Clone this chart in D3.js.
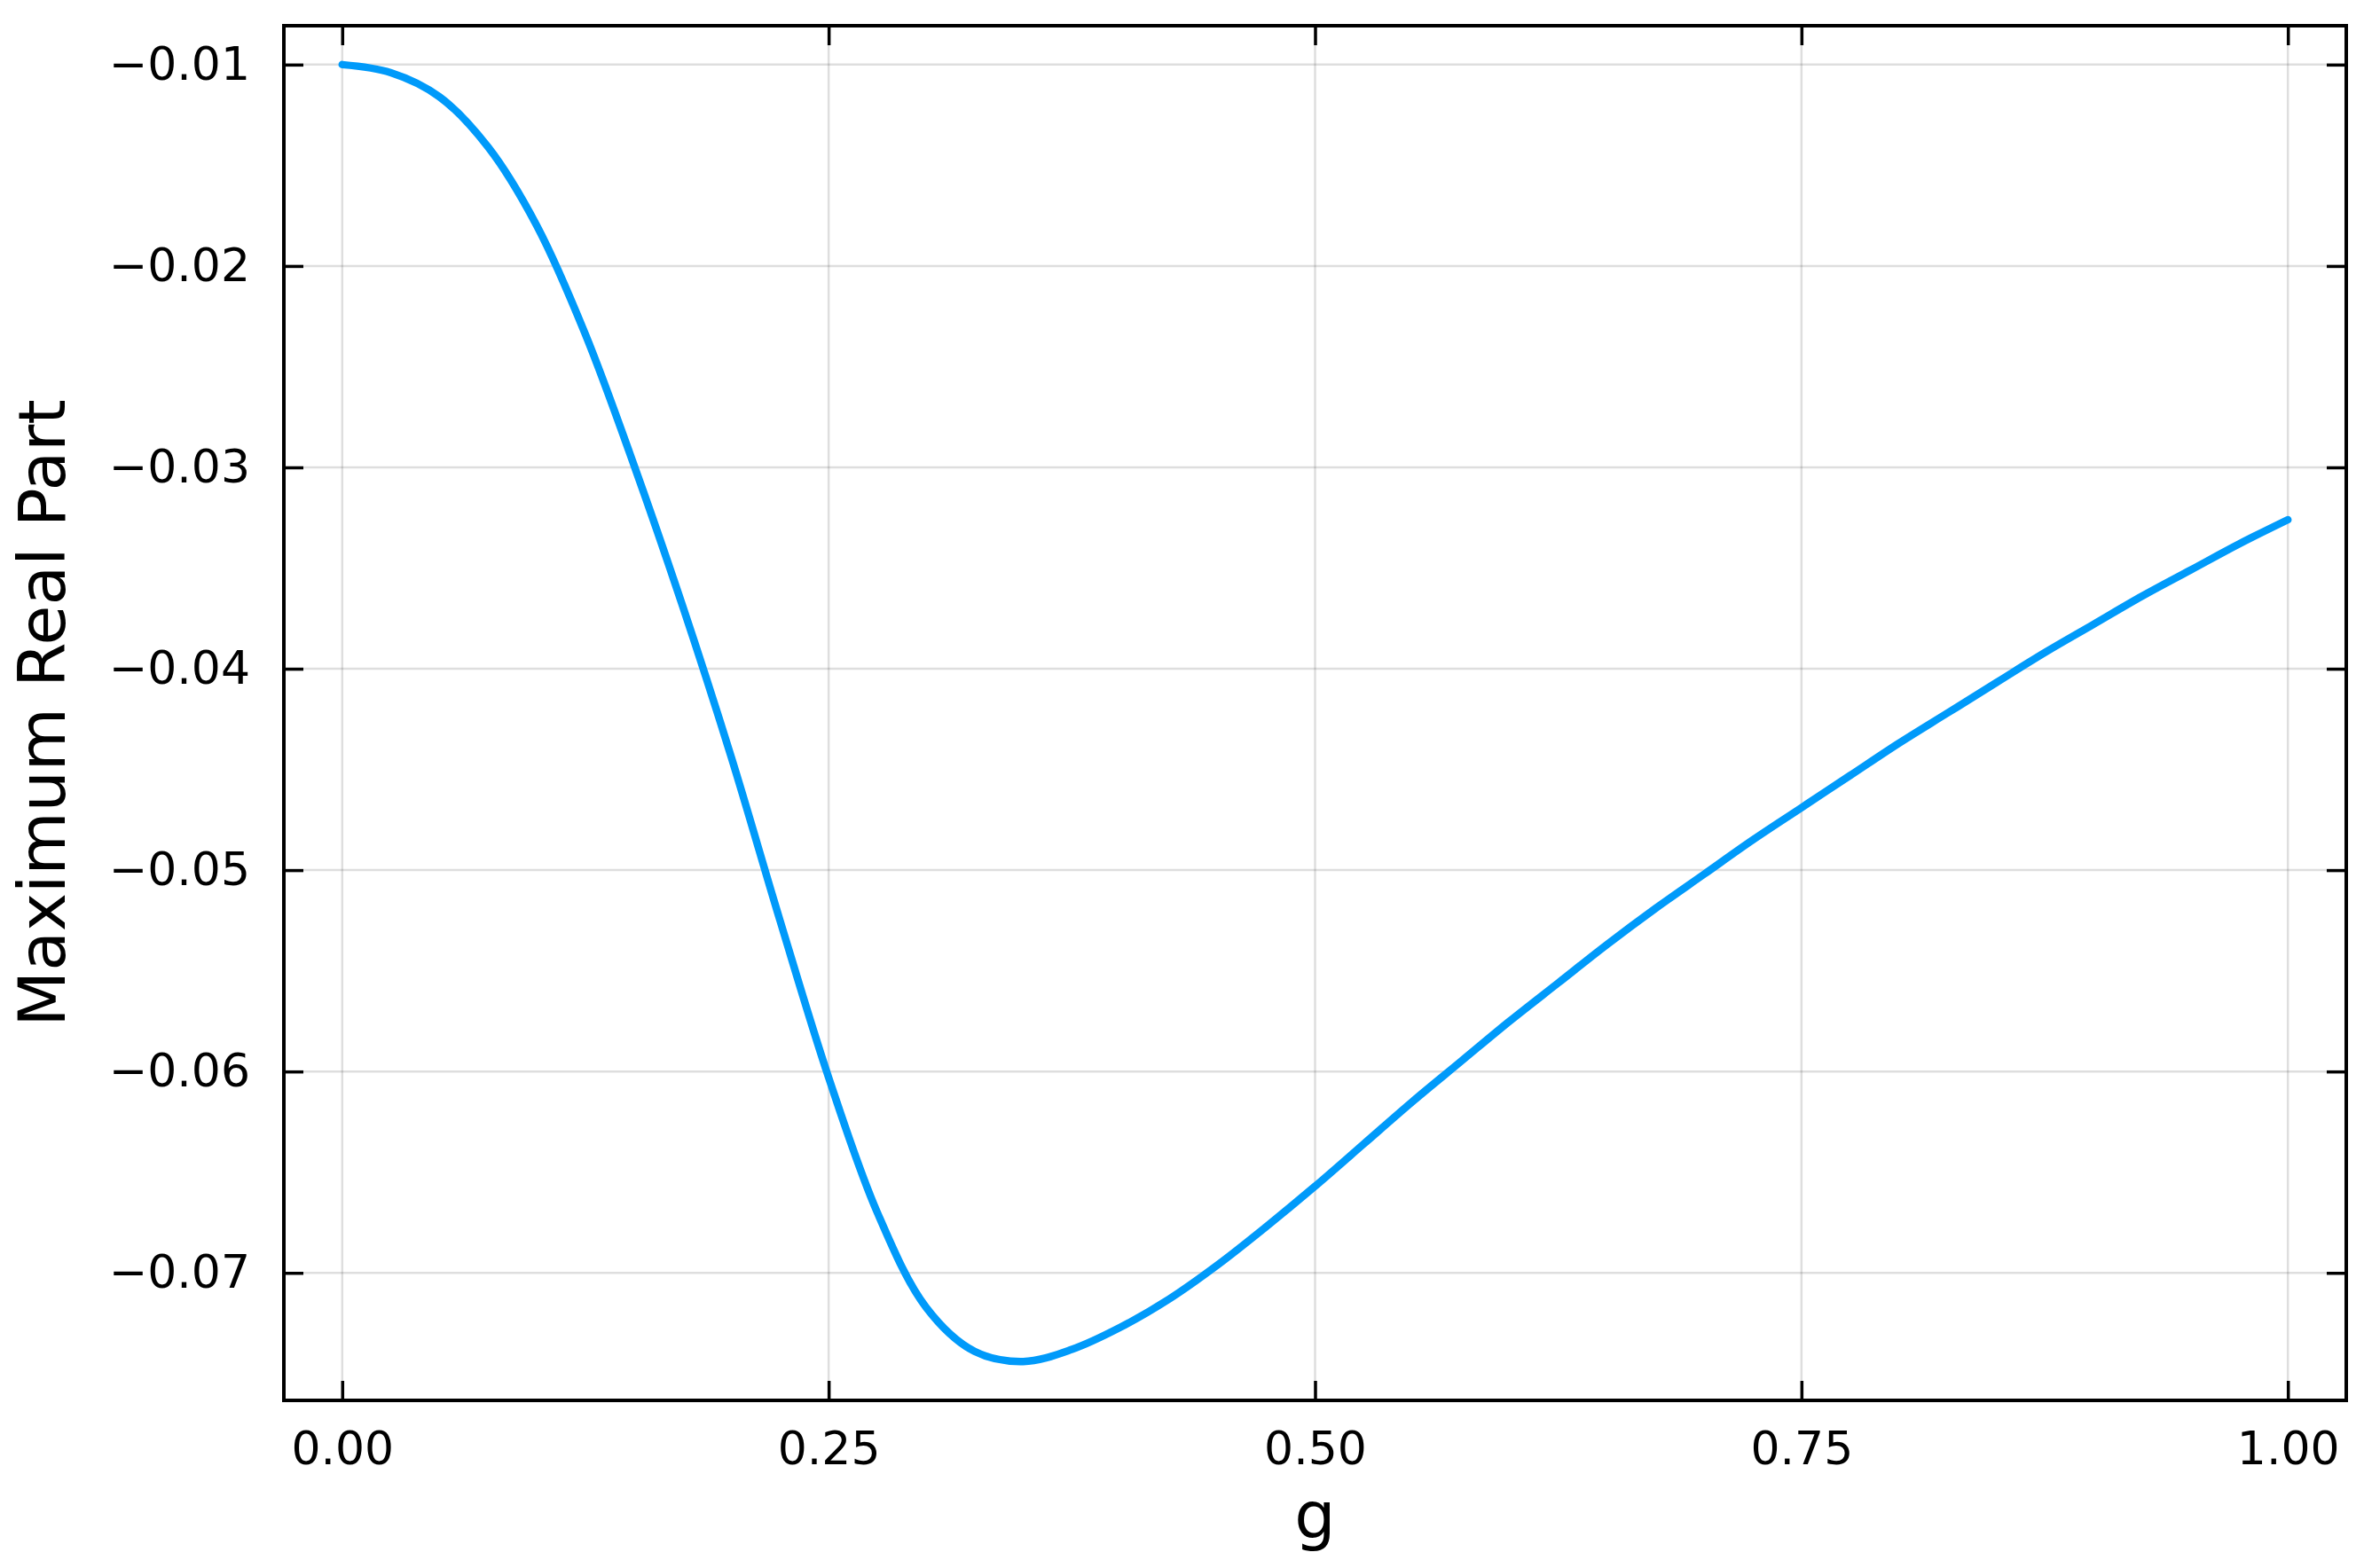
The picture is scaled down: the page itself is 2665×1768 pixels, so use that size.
<!DOCTYPE html>
<html>
<head>
<meta charset="utf-8">
<script src="https://cdn.jsdelivr.net/npm/d3@7"></script>
<style>
  html, body { margin: 0; padding: 0; background: #ffffff; }
  svg { display: block; }
</style>
</head>
<body>
<svg id="chart" width="2665" height="1768"></svg>
<script>
// ---- data ----
const gValues = [0.000, 0.025, 0.050, 0.075, 0.100, 0.125, 0.150, 0.175, 0.200, 0.225,
                 0.250, 0.275, 0.300, 0.325, 0.350, 0.375, 0.400, 0.425, 0.450, 0.475,
                 0.500, 0.525, 0.550, 0.575, 0.600, 0.625, 0.650, 0.675, 0.700, 0.725,
                 0.750, 0.775, 0.800, 0.825, 0.850, 0.875, 0.900, 0.925, 0.950, 0.975, 1.000];
const maxRealPart = [-0.0100, -0.0104, -0.0116, -0.0141, -0.0180, -0.0234, -0.0299, -0.0369, -0.0444, -0.0525,
                     -0.0603, -0.0670, -0.0717, -0.0739, -0.0744, -0.0738, -0.0727, -0.0713, -0.0696, -0.0677,
                     -0.0657, -0.0636, -0.0615, -0.0595, -0.0575, -0.0556, -0.0537, -0.0519, -0.0502, -0.0485,
                     -0.0469, -0.0453, -0.0437, -0.0422, -0.0407, -0.0392, -0.0378, -0.0364, -0.0351, -0.0338, -0.0326];
const xTickValues = [0, 0.25, 0.5, 0.75, 1.0];
const xTickLabels = ["0.00", "0.25", "0.50", "0.75", "1.00"];
const yTickValues = [-0.07, -0.06, -0.05, -0.04, -0.03, -0.02, -0.01];
const yTickLabels = ["\u22120.07", "\u22120.06", "\u22120.05", "\u22120.04", "\u22120.03", "\u22120.02", "\u22120.01"];
const xAxisTitle = "g";
const yAxisTitle = "Maximum Real Part";

// ---- layout ----
const frame = { left: 320, right: 2645, top: 29, bottom: 1579 };
const font = "'DejaVu Sans', sans-serif";
const tickFont = 52, titleFont = 73, tickLen = 22;

const svg = d3.select("#chart");
svg.append("rect").attr("width", 2665).attr("height", 1768).attr("fill", "#ffffff");

const data = gValues.map((g, i) => ({ g, v: maxRealPart[i] }));

const xExt = d3.extent(gValues), yExt = d3.extent(maxRealPart);
const xPad = (xExt[1] - xExt[0]) * 0.03, yPad = (yExt[1] - yExt[0]) * 0.03;
const x = d3.scaleLinear().domain([xExt[0] - xPad, xExt[1] + xPad]).range([frame.left, frame.right]);
const y = d3.scaleLinear().domain([yExt[0] - yPad, yExt[1] + yPad]).range([frame.bottom, frame.top]);

// grid
const grid = svg.append("g").attr("stroke", "#000").attr("stroke-opacity", 0.13).attr("stroke-width", 2.5);
grid.selectAll("line.gx").data(xTickValues).join("line")
  .attr("x1", d => x(d)).attr("x2", d => x(d)).attr("y1", frame.top).attr("y2", frame.bottom);
grid.selectAll("line.gy").data(yTickValues).join("line")
  .attr("y1", d => y(d)).attr("y2", d => y(d)).attr("x1", frame.left).attr("x2", frame.right);

// axes (inward ticks on all four sides)
function styleAxis(g) {
  g.select(".domain").remove();
  g.selectAll(".tick line").attr("stroke", "#000").attr("stroke-width", 3.5);
  g.selectAll(".tick text").attr("fill", "#000").style("font-family", font).style("font-size", tickFont + "px");
}
svg.append("g").attr("transform", `translate(0,${frame.bottom})`)
  .call(d3.axisBottom(x).tickValues(xTickValues).tickSize(-tickLen).tickPadding(35)
        .tickFormat((d, i) => xTickLabels[i]))
  .call(styleAxis);
svg.append("g").attr("transform", `translate(0,${frame.top})`)
  .call(d3.axisTop(x).tickValues(xTickValues).tickSize(-tickLen).tickFormat(""))
  .call(styleAxis);
svg.append("g").attr("transform", `translate(${frame.left},0)`)
  .call(d3.axisLeft(y).tickValues(yTickValues).tickSize(-tickLen).tickPadding(38)
        .tickFormat((d, i) => yTickLabels[i]))
  .call(styleAxis);
svg.append("g").attr("transform", `translate(${frame.right},0)`)
  .call(d3.axisRight(y).tickValues(yTickValues).tickSize(-tickLen).tickFormat(""))
  .call(styleAxis);

// curve
const line = d3.line().x(d => x(d.g)).y(d => y(d.v)).curve(d3.curveCatmullRom.alpha(0.5));
svg.append("path").datum(data)
  .attr("d", line)
  .attr("fill", "none")
  .attr("stroke", "#009AFA")
  .attr("stroke-width", 8.5)
  .attr("stroke-linecap", "round")
  .attr("stroke-linejoin", "round");

// frame
svg.append("rect")
  .attr("x", frame.left).attr("y", frame.top)
  .attr("width", frame.right - frame.left).attr("height", frame.bottom - frame.top)
  .attr("fill", "none").attr("stroke", "#000").attr("stroke-width", 4);

// titles
svg.append("text")
  .attr("x", (frame.left + frame.right) / 2).attr("y", 1734)
  .attr("text-anchor", "middle")
  .style("font-family", font).style("font-size", titleFont + "px").attr("fill", "#000")
  .text(xAxisTitle);
svg.append("text")
  .attr("transform", `translate(73,${(frame.top + frame.bottom) / 2}) rotate(-90)`)
  .attr("text-anchor", "middle")
  .style("font-family", font).style("font-size", titleFont + "px").attr("fill", "#000")
  .text(yAxisTitle);
</script>
</body>
</html>
